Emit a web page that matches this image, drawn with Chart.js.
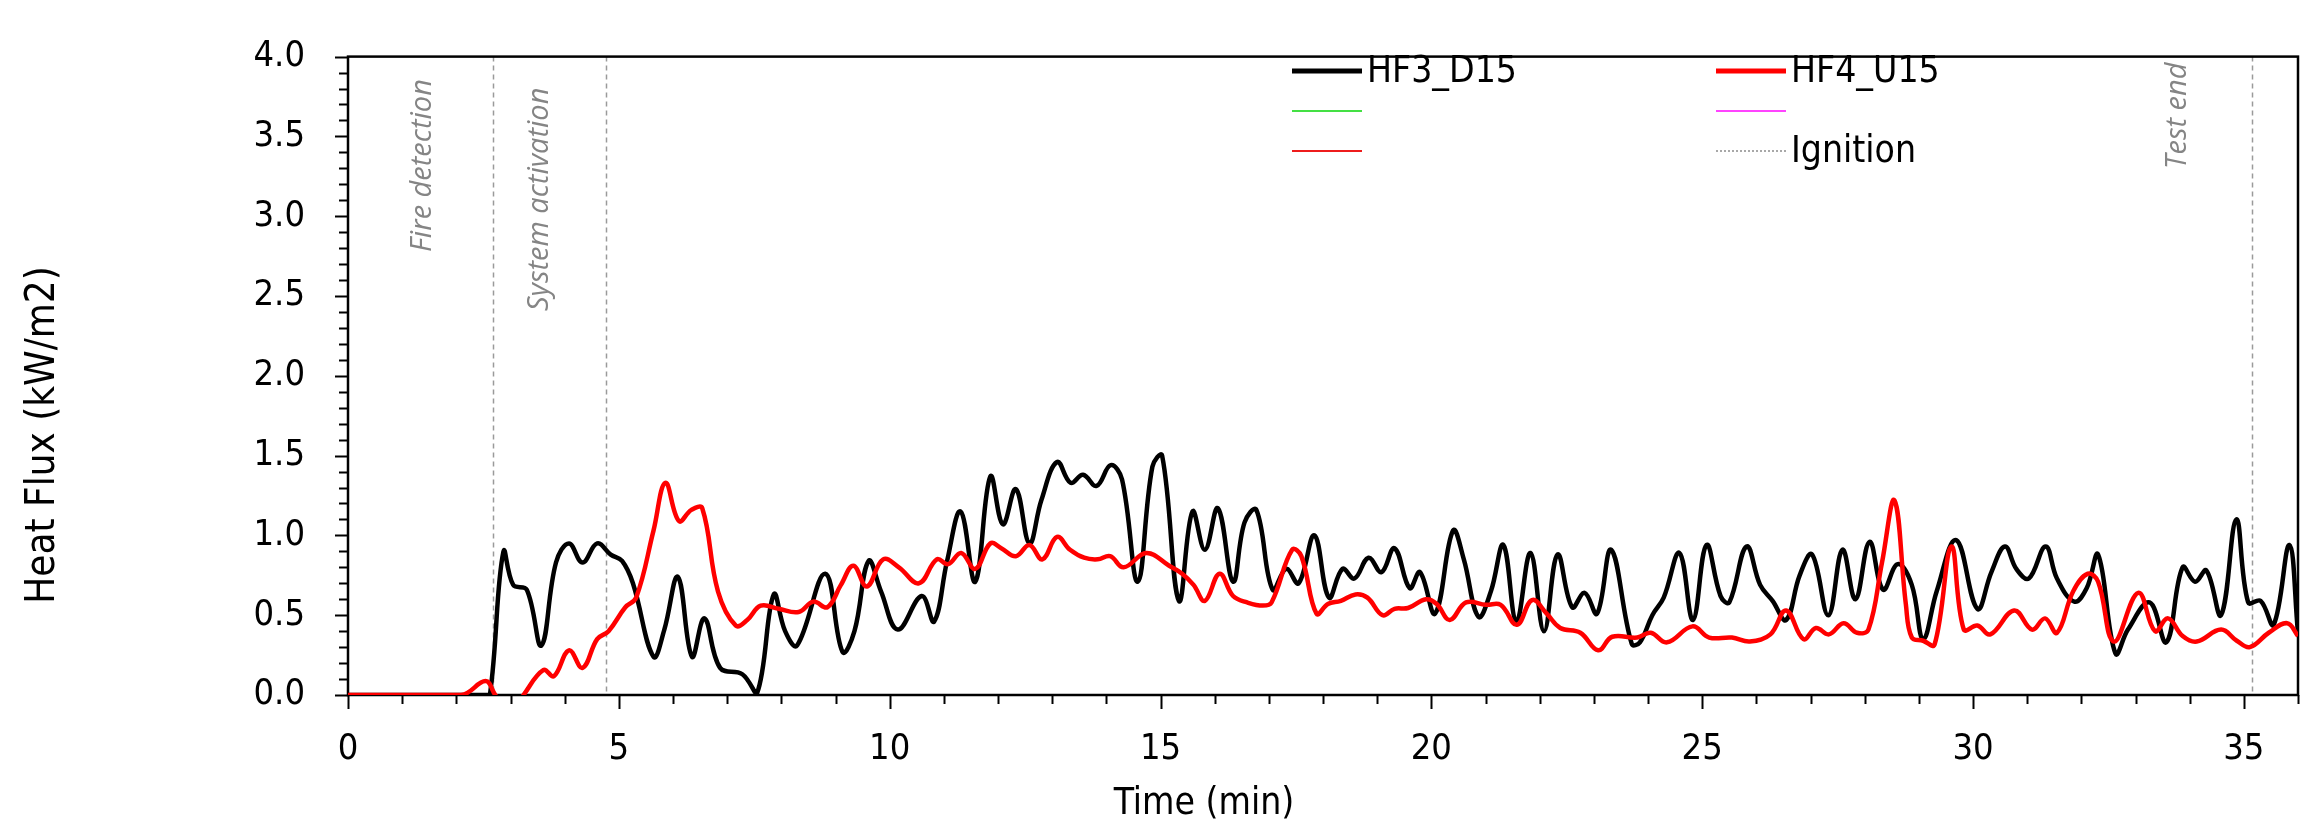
<!DOCTYPE html>
<html>
<head>
<meta charset="utf-8">
<script src="https://cdn.jsdelivr.net/npm/chart.js@4.4.0/dist/chart.umd.min.js"></script>
<style>
  html, body { margin: 0; padding: 0; background: #fff; }
</style>
</head>
<body>
<canvas id="heatFluxChart" width="2313" height="828"></canvas>
<script>
// heat flux readings, time in min, flux in kW/m2
var hf3Time = [0, 2.5, 2.62, 2.87, 3.05, 3.3, 3.57, 3.84, 4.08, 4.33, 4.6, 4.85, 5.06, 5.26, 5.64, 5.84, 6.09, 6.35, 6.58, 6.87,
  7.28, 7.55, 7.86, 8.07, 8.29, 8.81, 9.13, 9.35, 9.61, 9.84, 10.15, 10.59, 10.82, 11.06, 11.31, 11.58, 11.86, 12.09, 12.33, 12.58,
  12.8, 13.09, 13.34, 13.57, 13.82, 14.08, 14.29, 14.58, 14.85, 15.03, 15.34, 15.59, 15.82, 16.06, 16.34, 16.55, 16.77, 17.07, 17.32, 17.55,
  17.84, 18.11, 18.36, 18.58, 18.84, 19.08, 19.32, 19.6, 19.79, 20.07, 20.4, 20.6, 20.87, 21.1, 21.33, 21.57, 21.83, 22.08, 22.33, 22.6,
  22.83, 23.06, 23.32, 23.7, 23.85, 24.08, 24.29, 24.58, 24.83, 25.08, 25.34, 25.5, 25.82, 26.07, 26.3, 26.55, 26.8, 27.03, 27.33, 27.59,
  27.83, 28.09, 28.34, 28.61, 28.87, 29.08, 29.33, 29.69, 30.08, 30.34, 30.59, 30.8, 31.03, 31.34, 31.55, 31.87, 32.1, 32.31, 32.63, 32.86,
  33.26, 33.57, 33.87, 34.1, 34.31, 34.58, 34.86, 35.08, 35.31, 35.55, 35.84, 36];
var hf3Flux = [0, 0, 0, 0.90, 0.69, 0.66, 0.31, 0.83, 0.95, 0.83, 0.95, 0.88, 0.84, 0.70, 0.24, 0.41, 0.74, 0.24, 0.48, 0.17,
  0.13, 0.01, 0.63, 0.40, 0.31, 0.76, 0.27, 0.40, 0.84, 0.65, 0.41, 0.62, 0.46, 0.84, 1.15, 0.71, 1.37, 1.07, 1.29, 0.95,
  1.22, 1.46, 1.33, 1.38, 1.31, 1.44, 1.35, 0.71, 1.43, 1.50, 0.59, 1.15, 0.91, 1.17, 0.71, 1.08, 1.16, 0.66, 0.79, 0.70,
  1.00, 0.61, 0.79, 0.73, 0.86, 0.77, 0.92, 0.67, 0.77, 0.51, 1.03, 0.85, 0.49, 0.65, 0.94, 0.46, 0.89, 0.40, 0.88, 0.55,
  0.64, 0.51, 0.91, 0.32, 0.33, 0.50, 0.61, 0.89, 0.47, 0.94, 0.62, 0.58, 0.93, 0.69, 0.59, 0.47, 0.75, 0.88, 0.50, 0.91,
  0.60, 0.96, 0.66, 0.82, 0.69, 0.35, 0.65, 0.97, 0.54, 0.77, 0.93, 0.79, 0.73, 0.93, 0.73, 0.585, 0.67, 0.88, 0.26, 0.41,
  0.58, 0.33, 0.80, 0.71, 0.78, 0.50, 1.10, 0.58, 0.59, 0.44, 0.94, 0.39];

var hf4Time = [0, 2.09, 2.54, 2.72, 3.0, 3.24, 3.61, 3.8, 4.08, 4.33, 4.6, 4.81, 5.12, 5.32, 5.64, 5.86, 6.11, 6.34, 6.54, 6.83,
  7.16, 7.37, 7.62, 7.95, 8.32, 8.59, 8.85, 9.1, 9.33, 9.58, 9.88, 10.17, 10.54, 10.87, 11.08, 11.32, 11.58, 11.86, 12.06, 12.33,
  12.58, 12.82, 13.09, 13.33, 13.59, 13.84, 14.07, 14.32, 14.74, 15.16, 15.4, 15.61, 15.82, 16.09, 16.34, 16.6, 16.89, 17.05, 17.43, 17.6,
  17.88, 18.09, 18.33, 18.6, 18.82, 19.1, 19.32, 19.57, 19.9, 20.1, 20.34, 20.64, 21.01, 21.28, 21.58, 21.86, 22.13, 22.38, 22.75, 23.08,
  23.34, 23.8, 24.05, 24.35, 24.82, 25.13, 25.55, 25.88, 26.26, 26.55, 26.87, 27.1, 27.34, 27.61, 27.86, 28.07, 28.32, 28.55, 28.76, 28.87,
  29.08, 29.29, 29.6, 29.83, 30.08, 30.32, 30.76, 31.09, 31.33, 31.55, 31.85, 32.12, 32.31, 32.6, 33.05, 33.36, 33.6, 33.87, 34.13, 34.58,
  34.87, 35.11, 35.46, 35.8, 36];
var hf4Flux = [0, 0, 0.087, 0, -0.12, 0, 0.157, 0.117, 0.28, 0.17, 0.35, 0.40, 0.55, 0.61, 1.03, 1.33, 1.09, 1.16, 1.17, 0.65,
  0.435, 0.47, 0.56, 0.54, 0.52, 0.585, 0.55, 0.69, 0.81, 0.68, 0.85, 0.80, 0.70, 0.85, 0.82, 0.89, 0.79, 0.95, 0.92, 0.87,
  0.94, 0.85, 0.99, 0.91, 0.86, 0.85, 0.87, 0.80, 0.89, 0.81, 0.76, 0.69, 0.59, 0.76, 0.62, 0.58, 0.56, 0.58, 0.91, 0.87,
  0.51, 0.57, 0.59, 0.63, 0.61, 0.50, 0.54, 0.545, 0.60, 0.57, 0.47, 0.58, 0.565, 0.565, 0.44, 0.595, 0.51, 0.42, 0.39, 0.28,
  0.365, 0.36, 0.39, 0.33, 0.43, 0.36, 0.36, 0.335, 0.38, 0.53, 0.35, 0.42, 0.38, 0.45, 0.39, 0.41, 0.83, 1.22, 0.57, 0.36,
  0.34, 0.315, 0.93, 0.41, 0.435, 0.38, 0.53, 0.41, 0.48, 0.39, 0.65, 0.76, 0.71, 0.335, 0.64, 0.40, 0.48, 0.37, 0.335, 0.41,
  0.34, 0.30, 0.39, 0.45, 0.37];

var xTicks = [0, 5, 10, 15, 20, 25, 30, 35];
var yTicks = [0, 0.5, 1.0, 1.5, 2.0, 2.5, 3.0, 3.5, 4.0];

var eventTimes = [2.67, 4.77, 35.15];
var eventLabels = ['Fire detection', 'System activation', 'Test end'];

const FONT = '"DejaVu Sans Condensed", "Liberation Sans Narrow", "DejaVu Sans", sans-serif';

function toPoints(xs, ys) {
  return xs.map(function (t, i) { return { x: t, y: ys[i] }; });
}

// frame, minor ticks, event lines, legend and axis titles
var decorations = {
  id: 'decorations',
  beforeDatasetsDraw(chart) {
    const ctx = chart.ctx;
    const area = chart.chartArea;
    const xs = chart.scales.x;
    const ys = chart.scales.y;
    ctx.save();
    // event lines
    ctx.strokeStyle = '#9a9a9a';
    ctx.lineWidth = 1.5;
    ctx.setLineDash([5, 4]);
    eventTimes.forEach(function (t) {
      const px = Math.round(xs.getPixelForValue(t)) + 0.5;
      ctx.beginPath();
      ctx.moveTo(px, area.top);
      ctx.lineTo(px, area.bottom);
      ctx.stroke();
    });
    ctx.setLineDash([]);
    // labels next to the lines
    const textOffset = [-70, -67, -74];
    const textBottom = [252, 311, 169];
    ctx.fillStyle = '#858585';
    ctx.font = 'italic 29px "Open Sans", "Noto Sans", sans-serif';
    ctx.textAlign = 'left';
    ctx.textBaseline = 'middle';
    eventLabels.forEach(function (label, i) {
      const px = xs.getPixelForValue(eventTimes[i]) + textOffset[i];
      ctx.save();
      ctx.translate(px, textBottom[i]);
      ctx.rotate(-Math.PI / 2);
      ctx.fillText(label, 0, 0);
      ctx.restore();
    });
    // frame
    ctx.strokeStyle = '#000';
    ctx.lineWidth = 2.5;
    ctx.strokeRect(area.left, area.top, area.right - area.left, area.bottom - area.top);
    // tick marks
    ctx.lineWidth = 2;
    for (let m = 0; m <= 36; m++) {
      const px = Math.round(xs.getPixelForValue(m)) + 0.5;
      const len = m % 5 === 0 ? 14 : 9;
      ctx.beginPath();
      ctx.moveTo(px, area.bottom);
      ctx.lineTo(px, area.bottom + len);
      ctx.stroke();
    }
    for (let k = 0; k <= 40; k++) {
      const py = Math.round(ys.getPixelForValue(k / 10)) + 0.5;
      const len = k % 5 === 0 ? 13 : 9;
      ctx.beginPath();
      ctx.moveTo(area.left, py);
      ctx.lineTo(area.left - len, py);
      ctx.stroke();
    }
    ctx.restore();
  },
  afterDraw(chart) {
    const ctx = chart.ctx;
    ctx.save();
    // legend, two columns
    const colX = [1292, 1716];
    const rowY = [71, 111, 151];
    ctx.font = '37px ' + FONT;
    ctx.textAlign = 'left';
    ctx.textBaseline = 'middle';
    chart.data.datasets.forEach(function (ds) {
      const slot = ds.legendSlot;
      const x = colX[slot % 2];
      const y = rowY[Math.floor(slot / 2)];
      ctx.strokeStyle = ds.borderColor;
      ctx.lineWidth = ds.legendWidth;
      ctx.setLineDash(ds.borderDash || []);
      ctx.beginPath();
      ctx.moveTo(x, y);
      ctx.lineTo(x + 70, y);
      ctx.stroke();
      ctx.setLineDash([]);
      ctx.fillStyle = '#000';
      ctx.fillText(ds.label, x + 75, y + 1);
    });
    // axis titles
    ctx.font = '37px ' + FONT;
    ctx.textAlign = 'center';
    ctx.fillText('Time (min)', 1204, 804);
    ctx.font = '40px ' + FONT;
    ctx.translate(44, 435);
    ctx.rotate(-Math.PI / 2);
    ctx.fillText('Heat Flux (kW/m2)', 0, 0);
    ctx.restore();
  }
};

var ctx = document.getElementById('heatFluxChart').getContext('2d');
var heatFluxChart = new Chart(ctx, {
  type: 'line',
  data: {
    datasets: [{
      label: 'HF4_U15',
      data: toPoints(hf4Time, hf4Flux),
      borderColor: '#ff0000',
      borderWidth: 4.5,
      legendWidth: 5,
      legendSlot: 1,
      order: 0
    }, {
      label: 'HF3_D15',
      data: toPoints(hf3Time, hf3Flux),
      borderColor: '#000000',
      borderWidth: 4.5,
      legendWidth: 5,
      legendSlot: 0,
      order: 1
    }, {
      label: '',
      data: [],
      borderColor: '#44e044',
      legendWidth: 2,
      legendSlot: 2
    }, {
      label: '',
      data: [],
      borderColor: '#ff44ff',
      legendWidth: 2,
      legendSlot: 3
    }, {
      label: '',
      data: [],
      borderColor: '#ee1c1c',
      legendWidth: 2,
      legendSlot: 4
    }, {
      label: 'Ignition',
      data: [],
      borderColor: '#8c8c8c',
      borderDash: [2, 2],
      legendWidth: 1.5,
      legendSlot: 5
    }]
  },
  options: {
    responsive: false,
    devicePixelRatio: 1,
    animation: false,
    layout: { padding: { left: 0, top: 22, right: 15, bottom: 0 } },
    elements: { point: { radius: 0 }, line: { tension: 0.4 } },
    plugins: { legend: { display: false }, tooltip: { enabled: false } },
    scales: {
      x: {
        type: 'linear',
        min: 0,
        max: 36,
        afterBuildTicks: function (scale) { scale.ticks = xTicks.map(function (v) { return { value: v }; }); },
        afterFit: function (scale) { scale.height = 133; },
        grid: { display: false },
        border: { display: false },
        ticks: { padding: 25, color: '#000', maxRotation: 0, autoSkip: false, font: { family: FONT, size: 36 } }
      },
      y: {
        min: 0,
        max: 4,
        afterBuildTicks: function (scale) { scale.ticks = yTicks.map(function (v) { return { value: v }; }); },
        afterFit: function (scale) { scale.width = 348; },
        grid: { display: false },
        border: { display: false },
        ticks: {
          padding: 35, color: '#000', font: { family: FONT, size: 36 },
          callback: function (v) { return Number(v).toFixed(1); }
        }
      }
    }
  },
  plugins: [decorations]
});
</script>
</body>
</html>
